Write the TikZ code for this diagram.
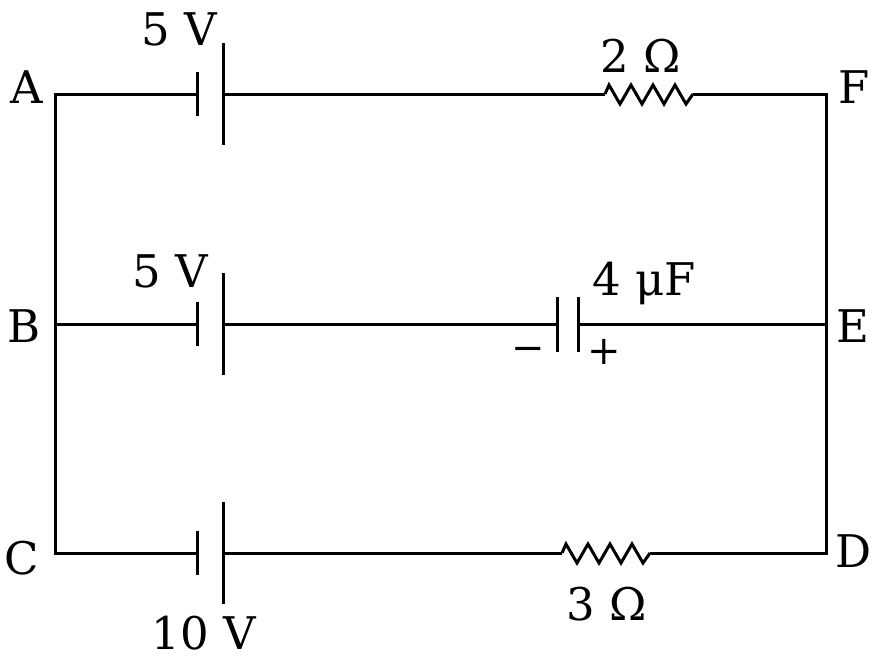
\documentclass[tikz,border=0pt]{standalone}
\usepackage{fontspec}
\setmainfont{DejaVu Serif}

\begin{document}
\begin{tikzpicture}[x=0.5pt,y=-0.5pt,
    wire/.style={line width=1.5pt},
    lbl/.style={font=\fontsize{22.5}{27}\selectfont,inner sep=0pt,anchor=base},
    sgn/.style={font=\fontsize{20}{24}\selectfont,inner sep=0pt}]
                \useasboundingbox (0,0) rectangle (882,666);

                % corners
                \coordinate (A) at (55,94);
                \coordinate (B) at (55,324);
                \coordinate (C) at (55,553);
                \coordinate (D) at (826,553);
                \coordinate (E) at (826,324);
                \coordinate (F) at (826,94);

                % terminals
                \coordinate (bat1s) at (197,94);
                \coordinate (bat1l) at (223,94);
                \coordinate (bat2s) at (197,324);
                \coordinate (bat2l) at (223,324);
                \coordinate (bat3s) at (197,553);
                \coordinate (bat3l) at (223,553);
                \coordinate (r1a) at (605,94);
                \coordinate (r1b) at (693,94);
                \coordinate (r2a) at (562,553);
                \coordinate (r2b) at (650,553);
                \coordinate (cap1) at (557,324);
                \coordinate (cap2) at (578,324);

                % wires
                \draw[wire] (bat1s) -- (A) -- (C) -- (bat3s);
                \draw[wire] (bat1l) -- (r1a);
                \draw[wire] (r1b) -- (F) -- (D) -- (r2b);
                \draw[wire] (bat3l) -- (r2a);
                \draw[wire] (B) -- (bat2s);
                \draw[wire] (bat2l) -- (cap1);
                \draw[wire] (cap2) -- (E);

                % cells
                \draw[wire] (bat1s) ++(0,-22) -- ++(0,44);
                \draw[wire] (bat1l) ++(0,-51) -- ++(0,102);
                \draw[wire] (bat2s) ++(0,-22) -- ++(0,44);
                \draw[wire] (bat2l) ++(0,-51) -- ++(0,102);
                \draw[wire] (bat3s) ++(0,-22) -- ++(0,44);
                \draw[wire] (bat3l) ++(0,-51) -- ++(0,102);

                % capacitor
                \draw[wire] (cap1) ++(0,-27) -- ++(0,55);
                \draw[wire] (cap2) ++(0,-27) -- ++(0,55);

                % resistors
                \draw[wire] (r1a) -- ++(4,-9) \foreach \i in {1,2,3} {-- ++(11,19) -- ++(11,-19)} -- ++(11,19) -- (r1b);
                \draw[wire] (r2a) -- ++(4,-9) \foreach \i in {1,2,3} {-- ++(11,19) -- ++(11,-19)} -- ++(11,19) -- (r2b);

                % labels
                \node[lbl] (lA) at (27,103) {A};
                \node[lbl] (lB) at (24,342) {B};
                \node[lbl] (lC) at (22,574) {C};
                \node[lbl] (lD) at (854,567) {D};
                \node[lbl] (lE) at (853,342) {E};
                \node[lbl] (lF) at (854,103) {F};
                \node[lbl] (v1) at (179,45) {5 V};
                \node[lbl] (v2) at (170,287) {5 V};
                \node[lbl] (v3) at (204,649) {10 V};
                \node[lbl] (res1) at (641,72) {2 Ω};
                \node[lbl] (res2) at (607,620) {3 Ω};
                \node[lbl] (cap) at (644,295) {4 μF};
                \node[sgn] (neg) at (528,354) {−};
                \node[sgn] (pos) at (604,352) {+};
            \end{tikzpicture}
\end{document}
